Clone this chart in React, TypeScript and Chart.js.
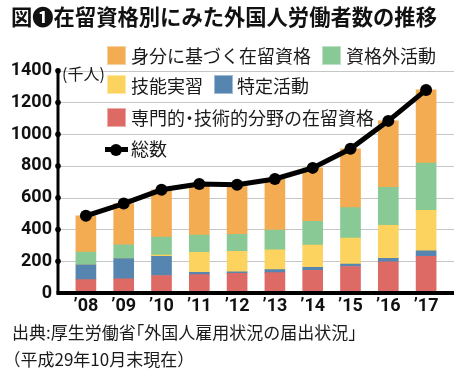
import React, { useEffect, useRef } from "react";
import { Chart, registerables } from "chart.js";

Chart.register(...registerables);

const years = ["’08", "’09", "’10", "’11", "’12", "’13", "’14", "’15", "’16", "’17"];
const professional = [84, 90, 110, 116, 124, 128, 143, 167, 197, 231];
const designated = [94, 126, 121, 14, 10, 19, 18, 15, 21, 35];
const trainee = [0, 0, 8, 126, 128, 125, 141, 164, 208, 254];
const outside = [80, 88, 113, 109, 108, 124, 149, 192, 239, 298];
const status = [228, 259, 298, 321, 312, 322, 337, 370, 419, 461];
const totals = [486, 563, 650, 686, 682, 718, 788, 908, 1084, 1279];
const yTicks = [0, 200, 400, 600, 800, 1000, 1200, 1400];

const C_STATUS = "#F4AC52";
const C_OUTSIDE = "#88C996";
const C_TRAINEE = "#FBD35E";
const C_DESIG = "#5686AF";
const C_PROF = "#DE6A66";

const JP = '"Noto Sans CJK JP", "Noto Sans", sans-serif';

const decor = {
  id: "decor",
  beforeDatasetsDraw(chart: any) {
    const { ctx, chartArea, scales } = chart;
    const y = scales.y;
    ctx.save();
    ctx.strokeStyle = "#c6c6c6";
    ctx.lineWidth = 1;
    for (const v of yTicks) {
      if (v === 0) continue;
      const py = Math.round(y.getPixelForValue(v)) + 0.5;
      ctx.beginPath();
      ctx.moveTo(chartArea.left - 9, py);
      ctx.lineTo(chartArea.right + 9, py);
      ctx.stroke();
    }
    ctx.restore();
  },
  afterDatasetsDraw(chart: any) {
    const { ctx, chartArea, scales } = chart;
    const y = scales.y;
    const ax = chartArea.left - 9;
    const top = y.getPixelForValue(1400);
    const bottom = y.getPixelForValue(0);
    ctx.save();
    ctx.strokeStyle = "#000";
    ctx.fillStyle = "#000";
    ctx.lineCap = "round";
    ctx.lineWidth = 3;
    ctx.beginPath();
    ctx.moveTo(ax, bottom);
    ctx.lineTo(ax, top);
    ctx.stroke();
    ctx.lineCap = "butt";
    ctx.lineWidth = 4;
    ctx.beginPath();
    ctx.moveTo(ax - 1.5, bottom);
    ctx.lineTo(chartArea.right + 9, bottom);
    ctx.stroke();
    for (const v of yTicks) {
      if (v === 0) continue;
      ctx.beginPath();
      ctx.arc(ax, y.getPixelForValue(v), 2.8, 0, Math.PI * 2);
      ctx.fill();
    }
    ctx.restore();
  },
};

function App() {
  const ref = useRef<HTMLCanvasElement | null>(null);
  useEffect(() => {
    if (!ref.current) return;
    const mk = (label: string, data: number[], color: string) => ({
      type: "bar" as const,
      label,
      data,
      backgroundColor: color,
      borderWidth: 0,
      barThickness: 20,
      stack: "s",
      order: 1,
    });
    const chart = new Chart(ref.current, {
      type: "bar",
      data: {
        labels: years,
        datasets: [
          {
            type: "line",
            label: "総数",
            data: totals,
            borderColor: "#000",
            backgroundColor: "#000",
            borderWidth: 5,
            pointRadius: 6,
            pointBackgroundColor: "#000",
            pointBorderWidth: 0,
            order: 0,
          } as any,
          mk("専門的・技術的分野の在留資格", professional, C_PROF),
          mk("特定活動", designated, C_DESIG),
          mk("技能実習", trainee, C_TRAINEE),
          mk("資格外活動", outside, C_OUTSIDE),
          mk("身分に基づく在留資格", status, C_STATUS),
        ],
      },
      options: {
        animation: false,
        responsive: true,
        maintainAspectRatio: false,
        layout: { padding: { left: 0, right: 25, top: 70.7, bottom: 0 } },
        plugins: { legend: { display: false }, tooltip: { enabled: false }, title: { display: false } },
        scales: {
          x: {
            stacked: true,
            grid: { display: false, drawTicks: false },
            border: { display: false },
            ticks: {
              color: "#111",
              font: { family: "Roboto", weight: "bold", size: 18 },
              padding: 3,
              maxRotation: 0,
            },
            afterFit(scale: any) {
              scale.height = 79;
            },
          },
          y: {
            stacked: true,
            min: 0,
            max: 1400,
            grid: { display: false, drawTicks: false },
            border: { display: false },
            ticks: {
              stepSize: 200,
              color: "#111",
              font: { family: "Roboto", weight: "bold", size: 18 },
              padding: 15,
              callback: (v: any) => String(v),
            },
            afterFit(scale: any) {
              scale.width = 67;
            },
          },
        },
      },
      plugins: [decor],
    } as any);
    return () => chart.destroy();
  }, []);

  const box = (x: number, y: number, c: string) => (
    <div
      style={{
        position: "absolute",
        left: x,
        top: y,
        width: 19,
        height: 19,
        background: c,
        boxShadow: "inset 0 0 0 1px rgba(255,255,255,0.45)",
      }}
    />
  );
  const txt = (x: number, cy: number, s: string, size = 18) => (
    <div
      style={{
        position: "absolute",
        left: x,
        top: cy - 14,
        height: 28,
        lineHeight: "28px",
        fontSize: size,
        fontFamily: JP,
        color: "#1a1a1a",
        whiteSpace: "nowrap",
      }}
    >
      {s}
    </div>
  );
  const half: React.CSSProperties = { fontFeatureSettings: '"halt"' };

  return (
    <div style={{ position: "fixed", left: 0, top: 0, width: 470, height: 372, background: "#fff", overflow: "hidden" }}>
      <canvas ref={ref} style={{ position: "absolute", left: 0, top: 0, width: 470, height: 372 }} />
      <div
        style={{
          position: "absolute",
          left: 11,
          top: 1,
          height: 30,
          lineHeight: "30px",
          fontSize: 21.3,
          fontWeight: 700,
          fontFamily: JP,
          color: "#111",
          whiteSpace: "nowrap",
        }}
      >
        図❶在留資格別にみた外国人労働者数の推移
      </div>
      {txt(62, 73, "(千人)", 16)}
      {box(107, 46, C_STATUS)}
      {txt(131, 55, "身分に基づく在留資格")}
      {box(322, 46, C_OUTSIDE)}
      {txt(346, 55, "資格外活動")}
      {box(107, 75, C_TRAINEE)}
      {txt(131, 85, "技能実習")}
      {box(214, 75, C_DESIG)}
      {txt(237, 85, "特定活動")}
      {box(107, 108, C_PROF)}
      <div
        style={{
          position: "absolute",
          left: 131,
          top: 117 - 14,
          height: 28,
          lineHeight: "28px",
          fontSize: 18,
          fontFamily: JP,
          color: "#1a1a1a",
          whiteSpace: "nowrap",
        }}
      >
        専門的<span style={half}>・</span>技術的分野の在留資格
      </div>
      <div style={{ position: "absolute", left: 105, top: 147, width: 23, height: 5, background: "#000" }} />
      <div style={{ position: "absolute", left: 110, top: 143.5, width: 12, height: 12, borderRadius: 6, background: "#000" }} />
      {txt(131, 148, "総数")}
      <div
        style={{
          position: "absolute",
          left: 12,
          top: 318,
          fontSize: 17,
          lineHeight: "27px",
          fontFamily: JP,
          color: "#1a1a1a",
          whiteSpace: "nowrap",
        }}
      >
        出典:厚生労働省<span style={half}>「</span>外国人雇用状況の届出状況<span style={half}>」</span>
        <br />
        <span style={half}>（</span>平成29年10月末現在<span style={half}>）</span>
      </div>
    </div>
  );
}

export default App;
